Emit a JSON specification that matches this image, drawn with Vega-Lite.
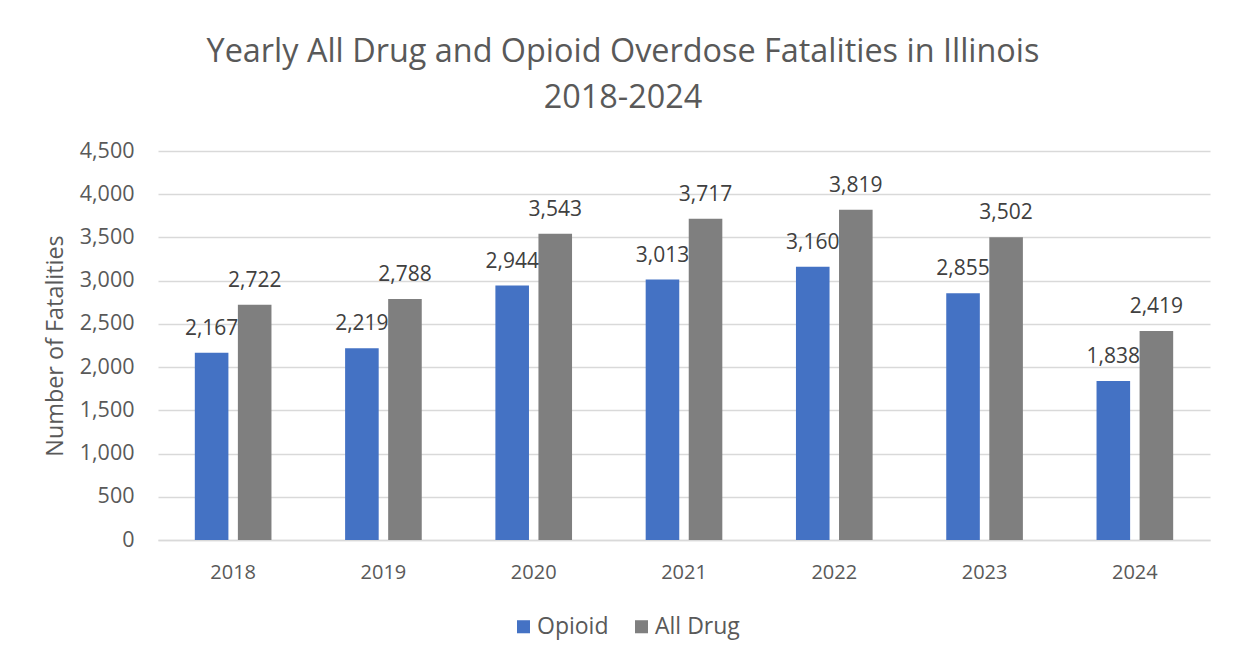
{
  "$schema": "https://vega.github.io/schema/vega-lite/v6.json",
  "autosize": {"type": "none"},
  "width": 1052,
  "height": 389,
  "padding": {"left": 158, "top": 151, "right": 26, "bottom": 120},
  "background": "white",
  "title": {
    "text": ["Yearly All Drug and Opioid Overdose Fatalities in Illinois", "2018-2024"],
    "font": "Open Sans",
    "fontSize": 32.4,
    "fontWeight": "normal",
    "color": "#595959",
    "lineHeight": 46,
    "anchor": "middle",
    "dx": -61,
    "offset": 26
  },
  "data": {
    "values": [
      {"year": "2018", "type": "Opioid", "value": 2167},
      {"year": "2018", "type": "All Drug", "value": 2722},
      {"year": "2019", "type": "Opioid", "value": 2219},
      {"year": "2019", "type": "All Drug", "value": 2788},
      {"year": "2020", "type": "Opioid", "value": 2944},
      {"year": "2020", "type": "All Drug", "value": 3543},
      {"year": "2021", "type": "Opioid", "value": 3013},
      {"year": "2021", "type": "All Drug", "value": 3717},
      {"year": "2022", "type": "Opioid", "value": 3160},
      {"year": "2022", "type": "All Drug", "value": 3819},
      {"year": "2023", "type": "Opioid", "value": 2855},
      {"year": "2023", "type": "All Drug", "value": 3502},
      {"year": "2024", "type": "Opioid", "value": 1838},
      {"year": "2024", "type": "All Drug", "value": 2419}
    ]
  },
  "encoding": {
    "x": {
      "field": "year", "type": "nominal",
      "scale": {"paddingInner": 0.49, "paddingOuter": 0.245},
      "axis": {
        "title": null, "labelAngle": 0, "ticks": false,
        "labelFont": "Open Sans", "labelFontSize": 20, "labelColor": "#595959",
        "labelPadding": 22, "domainColor": "#D9D9D9", "domainWidth": 1.5
      }
    },
    "xOffset": {
      "field": "type", "type": "nominal",
      "sort": ["Opioid", "All Drug"],
      "scale": {"paddingInner": 0.22, "paddingOuter": 0}
    },
    "y": {
      "field": "value", "type": "quantitative",
      "scale": {"domain": [0, 4500]},
      "axis": {
        "title": "Number of Fatalities",
        "titleFont": "Open Sans", "titleFontSize": 23.4, "titleFontWeight": "normal",
        "titleColor": "#595959", "titlePadding": 12,
        "values": [0, 500, 1000, 1500, 2000, 2500, 3000, 3500, 4000, 4500],
        "format": ",.0f",
        "labelFont": "Open Sans", "labelFontSize": 21.5, "labelColor": "#595959",
        "labelPadding": 24, "ticks": false, "domain": false,
        "gridColor": "#D9D9D9", "gridWidth": 1.5
      }
    }
  },
  "layer": [
    {
      "mark": {"type": "bar"},
      "encoding": {
        "color": {
          "field": "type", "type": "nominal",
          "sort": ["Opioid", "All Drug"],
          "scale": {"domain": ["Opioid", "All Drug"], "range": ["#4472C4", "#7F7F7F"]},
          "legend": {
            "title": null, "orient": "none", "direction": "horizontal",
            "legendX": 354, "legendY": 464,
            "symbolType": "square", "symbolSize": 170, "symbolStrokeWidth": 0,
            "labelFont": "Open Sans", "labelFontSize": 23, "labelColor": "#595959",
            "columnPadding": 21, "labelOffset": 2
          }
        }
      }
    },
    {
      "mark": {"type": "text", "baseline": "alphabetic", "dy": -18, "font": "Open Sans", "fontSize": 21, "color": "#404040"},
      "encoding": {
        "text": {"field": "value", "type": "quantitative", "format": ",.0f"}
      }
    }
  ],
  "config": {"view": {"stroke": null}}
}
